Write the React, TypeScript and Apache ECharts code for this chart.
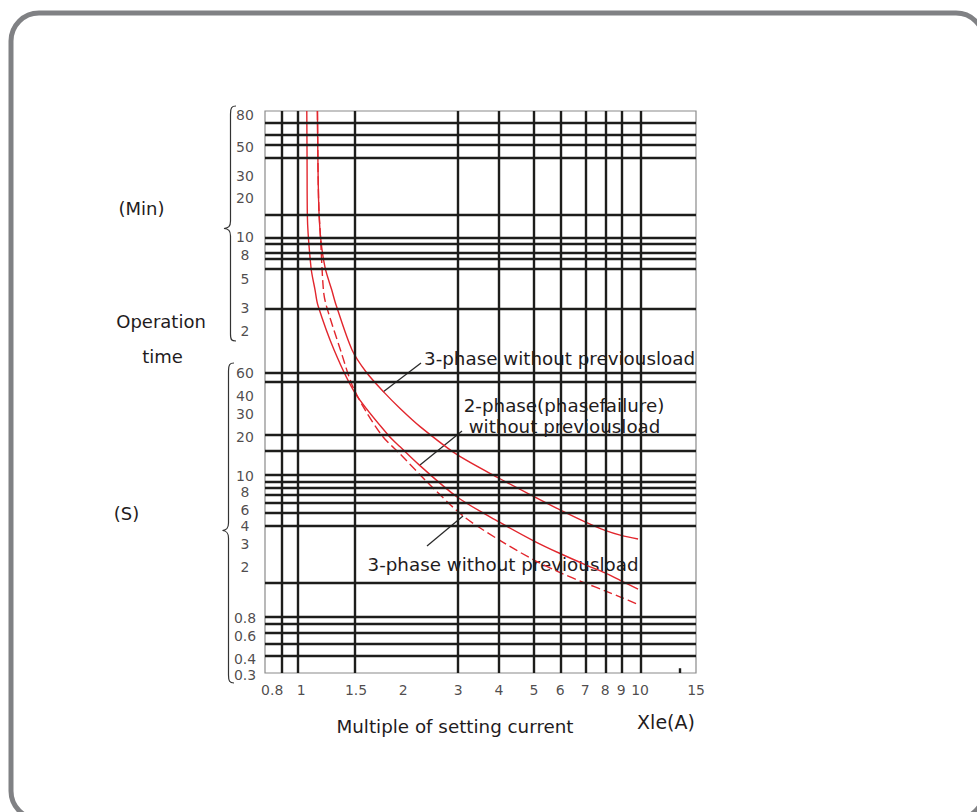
import React, { useEffect, useRef } from 'react';
import * as echarts from 'echarts';

// ---- axis extents (multiple of setting current, operation time in seconds) ----
const X_MIN = 0.784;
const X_MAX = 15.04;
const Y_MIN = 0.313;
const Y_MAX = 5590;

// ---- grid lines as drawn on the sheet ----
const xGridValues = [0.876, 0.984, 1.454, 2.931, 3.9, 4.96, 5.96, 7.06, 8.11, 9.05, 10.31];
const yGridSeconds = [
  4560, 3700, 3130, 2480, 914, 615, 554, 474, 427, 358, 178,
  58.6, 50, 19.8, 15, 9.9, 8.7, 7.9, 7.0, 6.1, 5.1, 4.1, 1.5,
  0.845, 0.745, 0.632, 0.519, 0.416,
];
const minorTickX = 13.49;

// ---- tick labels ----
const xTickValues = [0.8, 1, 1.5, 2, 3, 4, 5, 6, 7, 8, 9, 10, 15];
const xTickLabels = ['0.8', '1', '1.5', '2', '3', '4', '5', '6', '7', '8', '9', '10', '15'];
const ySecondTicks = [0.3, 0.4, 0.6, 0.8, 2, 3, 4, 6, 8, 10, 20, 30, 40, 60];
const yMinuteTicks = [2, 3, 5, 8, 10, 20, 30, 50, 80];

// label nudges in px (the printed sheet places some labels slightly off their ticks)
const xTickNudge = [4.2, 0.6, -3.6, 1.5, -2.7, -3.7, -1.3, -1.8, 0.7, 1.2, 0, 3.6, 0.5];
const ySecondNudge = [0, 0, 0, -1, 0, 1, -1, 6.5, 4.7, 2, 3, 3, 1.5, 1.5];
const yMinuteNudge = [-1, 0, 0, 3, -2.5, -1, 0, 0, -4.7];

// ---- curves: [multiple of setting current, time in s] ----
const curve3PhaseUpper = [
  [1.123, 5580], [1.132, 1186], [1.148, 612], [1.184, 363], [1.239, 247], [1.276, 190.5],
  [1.424, 87.0], [1.568, 59.3], [1.765, 42.1], [1.979, 31.4], [2.27, 22.9], [2.919, 14.1],
  [3.9, 9.31], [4.957, 6.76], [5.925, 5.36], [7.031, 4.35], [8.064, 3.75], [9.0, 3.44],
  [10.11, 3.23],
];
const curve2Phase = [
  [1.044, 5580], [1.046, 2380], [1.048, 913], [1.075, 363], [1.105, 247], [1.126, 190.5],
  [1.259, 87.0], [1.454, 41.1], [1.823, 19.8], [1.979, 16.1], [2.259, 11.7], [2.925, 6.72],
  [3.9, 4.35], [4.957, 3.12], [5.925, 2.51], [7.031, 2.07], [8.064, 1.79], [9.0, 1.56],
  [10.11, 1.35],
];
const curve3PhaseDashed = [
  [1.123, 5580], [1.132, 1186], [1.148, 591], [1.17, 247], [1.192, 190.5], [1.321, 84.0],
  [1.424, 47.3], [1.557, 30.6], [1.762, 19.1], [1.979, 14.2], [2.431, 8.28], [3.047, 4.83],
  [3.9, 3.18], [4.957, 2.24], [5.925, 1.8], [7.031, 1.5], [8.064, 1.31], [9.0, 1.17],
  [10.04, 1.04],
];

const FONT = '"DejaVu Sans", "Liberation Sans", Arial, sans-serif';
const INK = '#1f1c1d';
const RED = '#e2262d';

const braceUpper =
  'M236,106 C231.5,106 230.5,108 230.5,114 L230.5,221 C230.5,226.5 228.5,228 224,228.5 C228.5,229 230.5,230.5 230.5,236 L230.5,334 C230.5,340 231.5,341 236,341';
const braceLower =
  'M234,363 C229.5,363 228.5,365 228.5,371 L228.5,523 C228.5,528.5 226.5,530 222.5,530.5 C226.5,531 228.5,532.5 228.5,538 L228.5,675 C228.5,681 229.5,683 234,683';

function txt(text: string, x: number, y: number, size: number) {
  return {
    type: 'text',
    x,
    y,
    silent: true,
    style: {
      text,
      fill: INK,
      fontSize: size,
      fontFamily: FONT,
      align: 'center',
      verticalAlign: 'middle',
      textAlign: 'center',
      textVerticalAlign: 'middle',
    },
  };
}

function leader(x1: number, y1: number, x2: number, y2: number) {
  return {
    type: 'line',
    silent: true,
    shape: { x1, y1, x2, y2 },
    style: { stroke: '#2b2b2b', lineWidth: 1.3 },
  };
}

export default function App() {
  const ref = useRef<HTMLDivElement>(null);

  useEffect(() => {
    if (!ref.current) return;
    echarts.graphic.registerShape('braceUpper', echarts.graphic.extendPath(braceUpper, {}));
    echarts.graphic.registerShape('braceLower', echarts.graphic.extendPath(braceLower, {}));
    const chart = echarts.init(ref.current, null, { renderer: 'svg' });

    const gridLineStyle = { type: 'solid', color: '#1d1d1b', width: 2.4 };
    const markData: any[] = [
      ...xGridValues.map((v) => ({ xAxis: v })),
      ...yGridSeconds.map((v) => ({ yAxis: v })),
      [{ coord: [minorTickX, Y_MIN] }, { coord: [minorTickX, 0.34] }],
    ];

    const labelBase = {
      show: true,
      position: 'inside',
      formatter: '{b}',
      color: INK,
      fontSize: 14,
      fontFamily: FONT,
    };

    const yLabelData = [
      ...ySecondTicks.map((s, i) => ({
        name: String(s),
        value: [X_MIN, s],
        label: { offset: [-20, ySecondNudge[i]] },
      })),
      ...yMinuteTicks.map((m, i) => ({
        name: String(m),
        value: [X_MIN, m * 60],
        label: { offset: [-20, yMinuteNudge[i]] },
      })),
    ];
    const xLabelData = xTickValues.map((v, i) => ({
      name: xTickLabels[i],
      value: [v, Y_MIN],
      label: { offset: [xTickNudge[i], 17] },
    }));

    const option: any = {
      animation: false,
      backgroundColor: '#ffffff',
      grid: {
        left: 265,
        top: 111,
        width: 431,
        height: 562,
        show: true,
        borderColor: '#8a8a8a',
        borderWidth: 1.2,
        backgroundColor: 'transparent',
      },
      xAxis: {
        type: 'log',
        logBase: 10,
        min: X_MIN,
        max: X_MAX,
        axisLine: { show: false },
        axisTick: { show: false },
        axisLabel: { show: false },
        splitLine: { show: false },
      },
      yAxis: {
        type: 'log',
        logBase: 10,
        min: Y_MIN,
        max: Y_MAX,
        axisLine: { show: false },
        axisTick: { show: false },
        axisLabel: { show: false },
        splitLine: { show: false },
      },
      series: [
        {
          type: 'line',
          name: 'grid',
          data: [],
          silent: true,
          z: 1,
          markLine: {
            silent: true,
            symbol: ['none', 'none'],
            label: { show: false },
            lineStyle: gridLineStyle,
            emphasis: { disabled: true },
            data: markData,
          },
        },
        {
          type: 'line',
          name: '3-phase without previousload',
          data: curve3PhaseUpper,
          symbol: 'none',
          smooth: 0.3,
          silent: true,
          z: 3,
          lineStyle: { color: RED, width: 1.4, type: 'solid' },
        },
        {
          type: 'line',
          name: '2-phase(phasefailure) without previousload',
          data: curve2Phase,
          symbol: 'none',
          smooth: 0.3,
          silent: true,
          z: 3,
          lineStyle: { color: RED, width: 1.4, type: 'solid' },
        },
        {
          type: 'line',
          name: '3-phase without previousload (dashed)',
          data: curve3PhaseDashed,
          symbol: 'none',
          smooth: 0.3,
          silent: true,
          z: 3,
          lineStyle: { color: RED, width: 1.4, type: [9, 4] },
        },
        {
          type: 'scatter',
          name: 'yLabels',
          data: yLabelData,
          symbolSize: 1,
          clip: false,
          silent: true,
          z: 4,
          itemStyle: { color: 'rgba(0,0,0,0)' },
          label: { ...labelBase, offset: [-20, 0] },
        },
        {
          type: 'scatter',
          name: 'xLabels',
          data: xLabelData,
          symbolSize: 1,
          clip: false,
          silent: true,
          z: 4,
          itemStyle: { color: 'rgba(0,0,0,0)' },
          label: { ...labelBase, offset: [0, 17] },
        },
      ],
      graphic: [
        {
          type: 'rect',
          silent: true,
          shape: { x: 11, y: 13, width: 973, height: 806, r: 28 },
          style: { fill: 'none', stroke: '#808184', lineWidth: 5 },
        },
        {
          type: 'braceUpper',
          x: 0,
          y: 0,
          silent: true,
          style: { fill: 'none', stroke: '#333333', lineWidth: 1.2 },
        },
        {
          type: 'braceLower',
          x: 0,
          y: 0,
          silent: true,
          style: { fill: 'none', stroke: '#333333', lineWidth: 1.2 },
        },
        txt('(Min)', 141.5, 208, 18),
        txt('Operation', 161, 321, 18),
        txt('time', 162.5, 356, 18),
        txt('(S)', 126.5, 513, 18),
        txt('Multiple of setting current', 455, 726, 18.3),
        txt('Xle(A)', 666, 722, 19),
        txt('3-phase without previousload', 559.5, 358, 18.3),
        txt('2-phase(phasefailure)', 564, 405, 18.3),
        txt('without previousload', 564.5, 426, 18.3),
        txt('3-phase without previousload', 503, 564, 18.3),
        leader(383, 392, 421, 363),
        leader(420, 465, 462, 431),
        leader(427, 546, 463, 516),
      ],
    };

    chart.setOption(option);
    return () => {
      chart.dispose();
    };
  }, []);

  return (
    <div
      ref={ref}
      style={{ position: 'absolute', left: 0, top: 0, width: 977, height: 812, background: '#ffffff' }}
    />
  );
}
